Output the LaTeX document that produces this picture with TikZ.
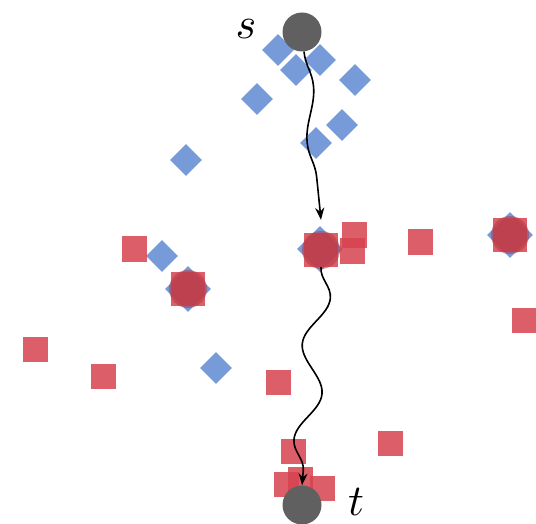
\documentclass[tikz,border=0pt]{standalone}
\usetikzlibrary{shapes.geometric,arrows.meta,decorations.pathmorphing}
\definecolor{dotblue}{RGB}{104,144,212}
\definecolor{dotred}{RGB}{214,66,78}
\definecolor{endgray}{RGB}{96,96,96}
\tikzset{
  bdiam/.style={diamond,fill=dotblue,fill opacity=0.9,draw=none,inner sep=0pt,minimum size=32pt,aspect=1},
  bigdiam/.style={bdiam,minimum size=46pt},
  rsq/.style={rectangle,fill=dotred,fill opacity=0.85,draw=none,inner sep=0pt,minimum size=25pt},
  bigsq/.style={rsq,minimum size=34pt},
  hubdot/.style={circle,fill=dotred!85!black,fill opacity=0.55,draw=none,inner sep=0pt,minimum size=38pt},
  endpt/.style={circle,fill=endgray,draw=none,inner sep=0pt,minimum size=39pt},
  endlabel/.style={scale=4.4,inner sep=0pt},
  wavy/.style={draw=black,line width=1.6pt,-{Stealth[length=12pt,width=9pt]},decorate},
}
\begin{document}
\begin{tikzpicture}[x=1pt,y=-1pt]
\useasboundingbox (0,0) rectangle (536,524);

% blue diamonds
\node[bdiam] (b1) at (278,50) {};
\node[bdiam] (b2) at (296,70) {};
\node[bdiam] (b3) at (320,60) {};
\node[bdiam] (b4) at (355,80) {};
\node[bdiam] (b5) at (257,99) {};
\node[bdiam] (b6) at (342,125) {};
\node[bdiam] (b7) at (316,143) {};
\node[bdiam] (b8) at (186,160) {};
\node[bdiam] (b9) at (162,256) {};
\node[bdiam] (b10) at (216,368) {};
\node[bigdiam] (bh1) at (188,289) {};
\node[bigdiam] (bh2) at (320,249) {};
\node[bigdiam] (bh3) at (510,235) {};

% red squares
\node[rsq] (r1) at (134,249) {};
\node[rsq] (r2) at (354,235) {};
\node[rsq] (r3) at (352,251) {};
\node[rsq] (r4) at (420,242) {};
\node[rsq] (r5) at (524,320) {};
\node[rsq] (r6) at (35,349) {};
\node[rsq] (r7) at (103,376) {};
\node[rsq] (r8) at (278,382) {};
\node[rsq] (r9) at (390,443) {};
\node[rsq] (r10) at (293,451) {};
\node[rsq] (r11) at (286,484) {};
\node[rsq] (r12) at (300,479) {};
\node[rsq] (r13) at (322,488) {};

% hub squares with their dots
\node[bigsq] (h1) at (188,289) {};
\node[hubdot] at (h1) {};
\node[bigsq] (h2) at (321,250) {};
\node[hubdot] at (h2) {};
\node[bigsq] (h3) at (510,235) {};
\node[hubdot] at (h3) {};

% end points
\node[endpt] (s) at (302,32) {};
\node[endpt] (t) at (302,505) {};
\node[endlabel] (sl) at (246,29) {$s$};
\node[endlabel] (tl) at (356,502) {$t$};

% wavy paths
\draw[wavy,decoration={snake,segment length=112pt,amplitude=6pt,post length=30pt}]
  (s) -- ([yshift=13pt]h2.north);
\draw[wavy,decoration={snake,segment length=96pt,amplitude=12pt,post length=14pt}]
  (h2.south) -- (t.north);
\end{tikzpicture}
\end{document}
